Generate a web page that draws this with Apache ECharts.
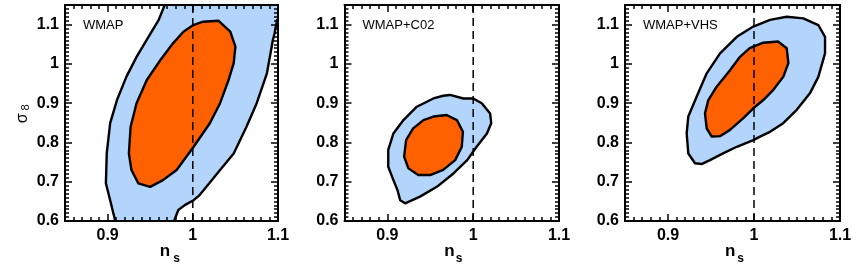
<!DOCTYPE html>
<html>
<head>
<meta charset="utf-8">
<script src="https://cdn.jsdelivr.net/npm/echarts@6/dist/echarts.min.js"></script>
<style>
html,body{margin:0;padding:0;background:#fff;}
#chart{width:857px;height:271px;}
</style>
</head>
<body>
<div id="chart"></div>
<script>
// ---- data ----
var panelTitles = ['WMAP', 'WMAP+C02', 'WMAP+VHS'];
var xName = ['n', 's'];          // n_s
var yName = ['\u03c3', '8'];     // sigma_8
var xTicks = [0.9, 1, 1.1];
var yTicks = [0.6, 0.7, 0.8, 0.9, 1, 1.1];
var xRange = [0.85, 1.1];
var yRange = [0.6, 1.15];
var refNs = 1;

// contour outlines [n_s, sigma_8]
var wmapOuter = [[0.905,0.57],[0.909,0.6],[0.903,0.653],[0.898,0.696],[0.899,0.772],[0.903,0.849],[0.911,0.908],[0.922,0.967],[0.934,1.018],[0.948,1.069],[0.960,1.112],[0.967,1.15],[0.972,1.18],[1.12,1.18],[1.12,1.12],[1.099,1.112],[1.096,1.078],[1.094,1.061],[1.087,0.976],[1.075,0.900],[1.063,0.840],[1.048,0.772],[1.032,0.730],[1.016,0.687],[1.008,0.666],[1.001,0.653],[0.991,0.641],[0.983,0.628],[0.978,0.6],[0.975,0.57]];
var wmapInner = [[1.0006,1.099],[1.012,1.1075],[1.030,1.110],[1.044,1.082],[1.050,1.044],[1.048,1.002],[1.042,0.959],[1.032,0.900],[1.020,0.849],[1.001,0.789],[0.981,0.730],[0.965,0.704],[0.950,0.687],[0.936,0.696],[0.928,0.730],[0.925,0.772],[0.927,0.840],[0.934,0.900],[0.946,0.959],[0.962,1.010],[0.977,1.053],[0.989,1.082]];
var c02Outer = [[0.973,0.921],[0.9886,0.912],[1.000,0.912],[1.010,0.900],[1.0197,0.874],[1.021,0.849],[1.016,0.823],[1.004,0.789],[0.993,0.755],[0.977,0.721],[0.9576,0.687],[0.938,0.662],[0.9207,0.645],[0.9149,0.653],[0.9117,0.679],[0.907,0.704],[0.901,0.738],[0.901,0.781],[0.907,0.823],[0.9187,0.857],[0.9343,0.891],[0.9536,0.912],[0.965,0.919]];
var c02Inner = [[0.9536,0.866],[0.969,0.870],[0.981,0.857],[0.988,0.827],[0.9867,0.789],[0.979,0.755],[0.965,0.730],[0.9498,0.717],[0.936,0.717],[0.9245,0.734],[0.9195,0.764],[0.9218,0.806],[0.930,0.836],[0.942,0.857]];
var vhsOuter = [[0.9992,1.095],[1.0186,1.112],[1.038,1.120],[1.0573,1.116],[1.0748,1.099],[1.0826,1.069],[1.0826,1.027],[1.0748,0.967],[1.065,0.925],[1.0497,0.883],[1.034,0.849],[1.0186,0.827],[1.007,0.815],[0.9992,0.806],[0.980,0.789],[0.964,0.772],[0.9488,0.755],[0.939,0.745],[0.9314,0.747],[0.9236,0.772],[0.9217,0.823],[0.9236,0.866],[0.9334,0.917],[0.945,0.976],[0.9605,1.027],[0.980,1.069]];
var vhsInner = [[0.995,1.040],[1.0108,1.054],[1.028,1.057],[1.038,1.040],[1.040,1.002],[1.034,0.967],[1.0225,0.934],[1.0108,0.908],[0.9992,0.887],[0.9876,0.862],[0.9721,0.832],[0.9605,0.816],[0.9508,0.815],[0.945,0.836],[0.943,0.874],[0.9469,0.908],[0.9566,0.942],[0.9721,0.984],[0.9837,1.018]];

var panels = [
  {outer: wmapOuter, inner: wmapInner},
  {outer: c02Outer, inner: c02Inner},
  {outer: vhsOuter, inner: vhsInner}
];

// ---- layout / style ----
var gridBoxes = [
  {left: 65, top: 5, width: 213, height: 216},
  {left: 344.5, top: 5, width: 214.5, height: 216},
  {left: 625, top: 5, width: 215, height: 216}
];
var nPos = [[165, 251, 176.5, 259], [449.5, 251, 459, 259], [730.3, 251, 740.5, 259]];
var BLUE = '#b4d5fb', ORANGE = '#ff6000';
var LABEL_FONT = 'Liberation Sans, Arial, Helvetica, sans-serif';

function inList(list, v) {
  for (var i = 0; i < list.length; i++) if (Math.abs(list[i] - v) < 1e-9) return true;
  return false;
}

var grids = [], xAxes = [], yAxes = [], series = [], graphics = [];

gridBoxes.forEach(function (b, g) {
  grids.push({left: b.left, top: b.top, width: b.width, height: b.height, show: false});
  var xBase = {type: 'value', gridIndex: g, min: xRange[0], max: xRange[1], splitLine: {show: false}, z: 10};
  xAxes.push(Object.assign({}, xBase, {
    position: 'bottom', splitNumber: 3,
    axisLine: {show: true, onZero: false, lineStyle: {color: '#000', width: 2}},
    axisTick: {show: true, inside: true, length: 7, lineStyle: {color: '#000', width: 1.5}},
    axisLabel: {show: true, margin: 7, color: '#000', fontSize: 16, fontWeight: 'bold', fontFamily: LABEL_FONT,
      formatter: function (v) { return inList(xTicks, v) ? String(v) : ''; }}
  }));
  xAxes.push(Object.assign({}, xBase, {
    position: 'bottom', interval: 0.01,
    axisLine: {show: false, onZero: false},
    axisTick: {show: true, inside: true, length: 4, lineStyle: {color: '#000', width: 1.5}},
    axisLabel: {show: false}
  }));
  xAxes.push(Object.assign({}, xBase, {
    position: 'top', splitNumber: 3,
    axisLine: {show: true, onZero: false, lineStyle: {color: '#000', width: 2}},
    axisTick: {show: true, inside: true, length: 7, lineStyle: {color: '#000', width: 1.5}},
    axisLabel: {show: false}
  }));
  xAxes.push(Object.assign({}, xBase, {
    position: 'top', interval: 0.01,
    axisLine: {show: false, onZero: false},
    axisTick: {show: true, inside: true, length: 4, lineStyle: {color: '#000', width: 1.5}},
    axisLabel: {show: false}
  }));
  var yBase = {type: 'value', gridIndex: g, min: yRange[0], max: yRange[1], splitLine: {show: false}, z: 10};
  yAxes.push(Object.assign({}, yBase, {
    position: 'left', interval: 0.1,
    axisLine: {show: true, onZero: false, lineStyle: {color: '#000', width: 2}},
    axisTick: {show: true, inside: true, length: 7, lineStyle: {color: '#000', width: 1.5}},
    axisLabel: {show: true, margin: 6, color: '#000', fontSize: 16, fontWeight: 'bold', fontFamily: LABEL_FONT,
      formatter: function (v) { return inList(yTicks, v) ? String(v) : ''; }}
  }));
  yAxes.push(Object.assign({}, yBase, {
    position: 'left', interval: 0.01,
    axisLine: {show: false, onZero: false},
    axisTick: {show: true, inside: true, length: 4, lineStyle: {color: '#000', width: 1.5}},
    axisLabel: {show: false}
  }));
  yAxes.push(Object.assign({}, yBase, {
    position: 'right', interval: 0.1,
    axisLine: {show: true, onZero: false, lineStyle: {color: '#000', width: 2}},
    axisTick: {show: true, inside: true, length: 7, lineStyle: {color: '#000', width: 1.5}},
    axisLabel: {show: false}
  }));
  yAxes.push(Object.assign({}, yBase, {
    position: 'right', interval: 0.01,
    axisLine: {show: false, onZero: false},
    axisTick: {show: true, inside: true, length: 4, lineStyle: {color: '#000', width: 1.5}},
    axisLabel: {show: false}
  }));

  function contour(pts, fill) {
    return {
      type: 'custom', xAxisIndex: g * 4, yAxisIndex: g * 4, silent: true, clip: true,
      data: [pts[0]],
      renderItem: function (params, api) {
        var cs = params.coordSys;
        return {
          type: 'polygon',
          shape: {points: pts.map(function (p) { return api.coord(p); })},
          style: {fill: fill, stroke: '#000', lineWidth: 2.4, lineJoin: 'round'},
          clipPath: {type: 'rect', shape: {x: cs.x, y: cs.y, width: cs.width, height: cs.height}}
        };
      }
    };
  }
  series.push(contour(panels[g].outer, BLUE));
  series.push(contour(panels[g].inner, ORANGE));
  series.push({
    type: 'line', xAxisIndex: g * 4, yAxisIndex: g * 4, silent: true, symbol: 'none',
    data: [[refNs, yRange[0]], [refNs, yRange[1]]],
    lineStyle: {color: '#000', width: 1.5, type: [8, 5]}, z: 5
  });

  graphics.push({type: 'text', x: b.left + 18, y: 25, style: {text: panelTitles[g], fill: '#000',
    font: '13px ' + LABEL_FONT, align: 'left', verticalAlign: 'middle', textAlign: 'left', textVerticalAlign: 'middle'}});
  var np = nPos[g];
  graphics.push({type: 'text', x: np[0], y: np[1], style: {text: xName[0], fill: '#000',
    font: 'bold 17px ' + LABEL_FONT, align: 'center', verticalAlign: 'middle', textAlign: 'center', textVerticalAlign: 'middle'}});
  graphics.push({type: 'text', x: np[2], y: np[3], style: {text: xName[1], fill: '#000',
    font: 'bold 12px ' + LABEL_FONT, align: 'center', verticalAlign: 'middle', textAlign: 'center', textVerticalAlign: 'middle'}});
});

graphics.push({type: 'text', x: 23, y: 118.3, rotation: Math.PI / 2, style: {text: yName[0], fill: '#000',
  font: '16px ' + LABEL_FONT, align: 'center', verticalAlign: 'middle', textAlign: 'center', textVerticalAlign: 'middle'}});
graphics.push({type: 'text', x: 26, y: 107.5, rotation: Math.PI / 2, style: {text: yName[1], fill: '#000',
  font: '11px ' + LABEL_FONT, align: 'center', verticalAlign: 'middle', textAlign: 'center', textVerticalAlign: 'middle'}});

var chart = echarts.init(document.getElementById('chart'), null, {renderer: 'canvas'});
chart.setOption({
  animation: false,
  backgroundColor: '#fff',
  grid: grids,
  xAxis: xAxes,
  yAxis: yAxes,
  series: series,
  graphic: graphics
});
</script>
</body>
</html>
